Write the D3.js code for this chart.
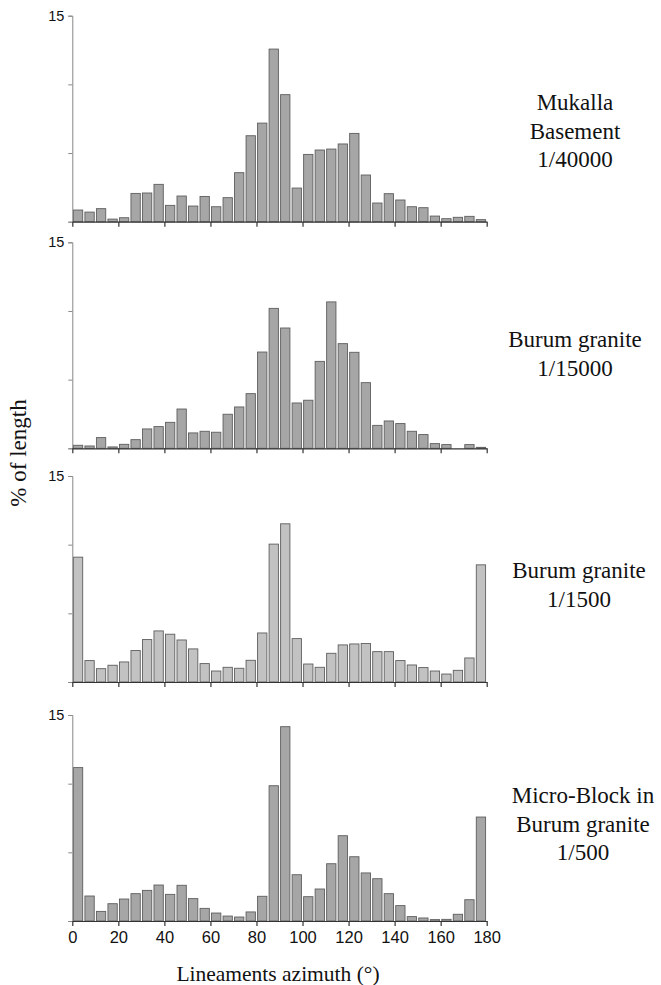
<!DOCTYPE html>
<html>
<head>
<meta charset="utf-8">
<script src="https://d3js.org/d3.v7.min.js"></script>
<style>
  body { margin: 0; background: #fff; }
  .axis text { font-family: "Liberation Sans", Arial, sans-serif; fill: #111; }
  .lbl { font-family: "Liberation Serif", "Times New Roman", serif; fill: #111; }
</style>
</head>
<body>
<div id="chart"></div>
<script>
// azimuth bins (start of each 5 degree class)
var bins = d3.range(0, 180, 5);
var xTicks = [0, 20, 40, 60, 80, 100, 120, 140, 160, 180];
var yTicks = [0, 5, 10, 15];

// % of length for each panel
var mukalla = [0.85, 0.70, 0.95, 0.19, 0.29, 2.06, 2.09, 2.72, 1.19, 1.87, 1.14, 1.84,
  1.09, 1.75, 3.57, 6.26, 7.18, 12.57, 9.25, 2.45, 4.90, 5.22, 5.29, 5.66,
  6.43, 3.40, 1.36, 2.04, 1.58, 1.09, 1.02, 0.41, 0.22, 0.32, 0.39, 0.15];
var burum15000 = [0.22, 0.17, 0.78, 0.10, 0.29, 0.63, 1.41, 1.58, 1.89, 2.86, 1.12, 1.24,
  1.17, 2.48, 3.01, 3.98, 7.01, 10.19, 8.76, 3.30, 3.50, 6.33, 10.66, 7.62,
  6.99, 4.78, 1.67, 1.99, 1.80, 1.24, 1.00, 0.34, 0.27, 0.0, 0.27, 0.07];
var burum1500 = [9.09, 1.56, 0.97, 1.22, 1.46, 2.29, 3.09, 3.72, 3.48, 3.06, 2.41, 1.34,
  0.80, 1.07, 1.00, 1.58, 3.57, 10.04, 11.52, 3.16, 1.31, 1.07, 2.09, 2.70,
  2.77, 2.80, 2.21, 2.21, 1.56, 1.24, 1.05, 0.80, 0.58, 0.85, 1.75, 8.53];
var microBlock = [11.17, 1.82, 0.70, 1.26, 1.60, 1.99, 2.23, 2.62, 1.94, 2.60, 1.63, 0.92,
  0.58, 0.36, 0.29, 0.66, 1.80, 9.85, 14.15, 3.37, 1.77, 2.33, 4.17, 6.21,
  4.68, 3.50, 3.08, 1.99, 1.12, 0.32, 0.22, 0.10, 0.12, 0.49, 1.55, 7.57];

var series = [mukalla, burum15000, burum1500, microBlock];
var titles = [["Mukalla", "Basement", "1/40000"],
              ["Burum granite", "1/15000"],
              ["Burum granite", "1/1500"],
              ["Micro-Block in", "Burum granite", "1/500"]];

// layout of the four stacked panels
var width = 661, height = 985;
var left = 72.3, right = 486.7;
var panelTop = [15.7, 242.3, 476, 715];
var panelH = 206;
var fills = ["#a6a6a6", "#a6a6a6", "#c2c2c2", "#a6a6a6"];
var titlePos = [{x: 575, y: 110}, {x: 575, y: 347}, {x: 579, y: 578}, {x: 583, y: 803}];

var svg = d3.select("#chart")
  .append("svg")
    .attr("width", width)
    .attr("height", height);

var x = d3.scaleLinear()
  .domain([0, 180])
  .range([left, right]);

var binW = x(5) - x(0);

series.forEach(function(data, p) {
  var y = d3.scaleLinear()
    .domain([0, 15])
    .range([panelTop[p] + panelH, panelTop[p]]);

  var g = svg.append("g");

  // bars
  g.selectAll("rect")
    .data(data)
    .enter()
    .append("rect")
      .attr("x", function(d, i) { return x(bins[i]) + 1.1; })
      .attr("width", binW - 2.2)
      .attr("y", function(d) { return y(d); })
      .attr("height", function(d) { return y(0) - y(d); })
      .attr("fill", fills[p])
      .attr("stroke", "#5e5e5e")
      .attr("stroke-width", 0.9);

  // Add Y axis
  var yAxis = g.append("g")
    .attr("class", "axis")
    .attr("transform", "translate(" + left + ",0)")
    .call(d3.axisLeft(y)
      .tickValues(yTicks)
      .tickSize(4)
      .tickPadding(4)
      .tickFormat(function(d) { return d == 15 ? "15" : ""; }));
  yAxis.select(".domain").attr("stroke", "#888").attr("stroke-width", 1);
  yAxis.selectAll(".tick line").attr("stroke", "#888");
  yAxis.selectAll("text").style("font-size", "14.5px");

  // Add X axis
  var xAxis = g.append("g")
    .attr("class", "axis")
    .attr("transform", "translate(0," + y(0) + ")")
    .call(d3.axisBottom(x)
      .tickValues(xTicks)
      .tickSizeInner(5)
      .tickSizeOuter(0)
      .tickPadding(5)
      .tickFormat(function(d) { return p == 3 ? d : ""; }));
  xAxis.select(".domain").attr("stroke", "#333").attr("stroke-width", 1.2);
  xAxis.selectAll(".tick line").attr("stroke", "#333").attr("stroke-width", 1.2);
  xAxis.selectAll("text").style("font-size", "16.5px");

  // panel label
  var t = svg.append("text")
    .attr("class", "lbl")
    .attr("x", titlePos[p].x)
    .attr("y", titlePos[p].y)
    .style("text-anchor", "middle")
    .style("font-size", "23px");
  titles[p].forEach(function(line, i) {
    t.append("tspan")
      .attr("x", titlePos[p].x)
      .attr("dy", i == 0 ? 0 : 28.5)
      .text(line);
  });
});

// axis titles
svg.append("text")
  .attr("class", "lbl")
  .attr("x", 278)
  .attr("y", 981)
  .style("text-anchor", "middle")
  .style("font-size", "21.5px")
  .text("Lineaments azimuth (°)");

svg.append("text")
  .attr("class", "lbl")
  .attr("transform", "translate(26,453) rotate(-90)")
  .style("text-anchor", "middle")
  .style("font-size", "23px")
  .text("% of length");
</script>
</body>
</html>
